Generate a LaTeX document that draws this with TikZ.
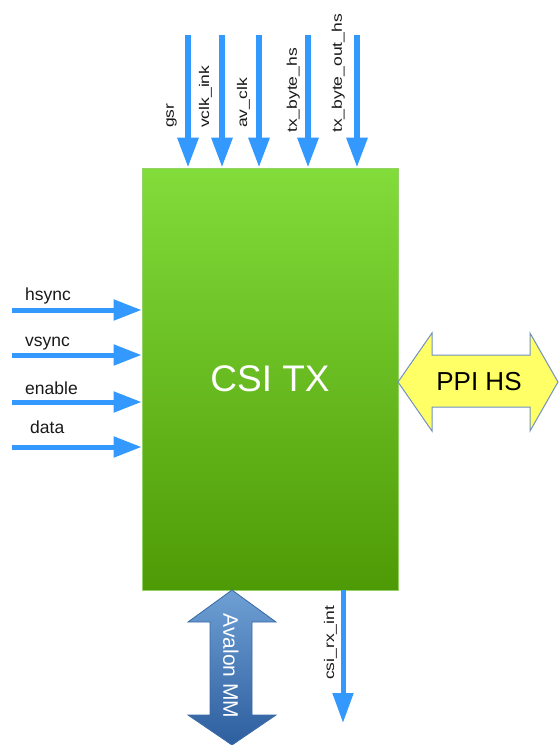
\documentclass[tikz,border=0pt]{standalone}
\usepackage{fontspec}
\setmainfont{Liberation Sans}
\usetikzlibrary{arrows.meta,calc}

\definecolor{sigblue}{HTML}{3399FF}
\definecolor{boxtop}{HTML}{82DC3A}
\definecolor{boxbot}{HTML}{4E9A06}
\definecolor{boxedge}{HTML}{94D266}
\definecolor{ppifill}{HTML}{FFFF66}
\definecolor{ppiedge}{HTML}{7290C0}
\definecolor{avtop}{HTML}{6E9FD4}
\definecolor{avbot}{HTML}{2D5E9E}
\definecolor{avedge}{HTML}{3A6AA8}

\tikzset{
  sigin/.style={draw=sigblue, line width=6pt,
    -{Triangle[width=20pt,length=30pt]}},
  sigside/.style={draw=sigblue, line width=5pt,
    -{Triangle[width=20pt,length=28pt]}},
  siglabel/.style={inner sep=0pt, font=\fontsize{17.5}{20}\selectfont, text=black!90},
  vlabel/.style={siglabel, rotate=90, anchor=south west},
  block/.style={rectangle, minimum width=256pt, minimum height=422pt,
    top color=boxtop, bottom color=boxbot, draw=boxedge, line width=0.8pt,
    text=white, font=\fontsize{37}{40}\selectfont},
}

\newcommand{\vtext}[1]{\scalebox{1}[0.8]{#1}}

\begin{document}
\begin{tikzpicture}[x=1pt,y=-1pt]
\useasboundingbox (0,0) rectangle (559,745);

% main block
\node[block] (csi) at (270,379) {CSI TX};

% top inputs
\foreach \nm/\xx in {gsr/188, vclk/222, avclk/259, txb/308, txbo/357}{
  \coordinate (\nm-src) at (\xx,35);
  \draw[sigin] (\nm-src) -- (\nm-src |- csi.north);
}
\node[vlabel] (l-gsr)  at (177,128) {\vtext{gsr}};
\node[vlabel] (l-vclk) at (212,128) {\vtext{vclk\_ink}};
\node[vlabel] (l-avclk) at (250,128) {\vtext{av\_clk}};
\node[vlabel] (l-txb)  at (300,133) {\vtext{tx\_byte\_hs}};
\node[vlabel] (l-txbo) at (345,133) {\vtext{tx\_byte\_out\_hs}};

% left inputs
\foreach \nm/\yy in {hs/310, vs/355, en/402, dat/447}{
  \coordinate (\nm-src) at (12,\yy);
  \draw[sigside] (\nm-src) -- (\nm-src -| csi.west);
}
\node[siglabel, anchor=base west] (l-hs)  at (25,300) {hsync};
\node[siglabel, anchor=base west] (l-vs)  at (25,346) {vsync};
\node[siglabel, anchor=base west] (l-en)  at (25,394) {enable};
\node[siglabel, anchor=base west] (l-dat) at (30,433) {data};

% interrupt output
\coordinate (irq-dst) at (343,723);
\draw[draw=sigblue, line width=5pt, -{Triangle[width=20pt,length=30pt]}]
  (irq-dst |- csi.south) -- (irq-dst);
\node[vlabel] (l-irq) at (337,680) {\vtext{csi\_rx\_int}};

% PPI HS bidirectional port
\filldraw[fill=ppifill, draw=ppiedge, line width=1pt, line join=miter]
  (398,382) -- (432,333) -- (432,355) -- (530,355) -- (530,333) -- (558,382)
  -- (530,431) -- (530,407) -- (432,407) -- (432,431) -- cycle;
\node[inner sep=0pt, font=\fontsize{26}{30}\selectfont] (ppi) at (479,382) {PPI HS};

% Avalon MM bidirectional port
\shade[top color=avtop, bottom color=avbot]
  (232,590) -- (276,622) -- (252,622) -- (252,715) -- (276,715) -- (232,745)
  -- (188,715) -- (210,715) -- (210,622) -- (188,622) -- cycle;
\draw[avedge, line width=0.8pt]
  (232,590) -- (276,622) -- (252,622) -- (252,715) -- (276,715) -- (232,745)
  -- (188,715) -- (210,715) -- (210,622) -- (188,622) -- cycle;
\node[inner sep=0pt, rotate=-90, text=white, font=\fontsize{21}{24}\selectfont]
  (avmm) at (231,666) {Avalon MM};
\end{tikzpicture}
\end{document}
